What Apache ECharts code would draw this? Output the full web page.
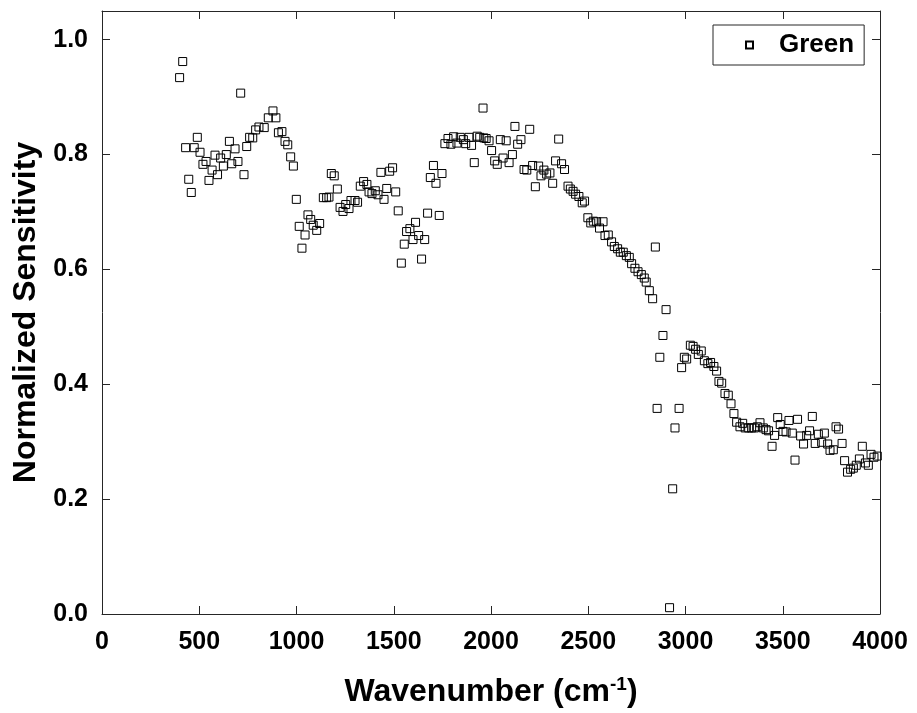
<!DOCTYPE html>
<html>
<head>
<meta charset="utf-8">
<script src="https://cdn.jsdelivr.net/npm/echarts@6/dist/echarts.min.js"></script>
<style>html,body{margin:0;padding:0;background:#fff}#c{width:917px;height:713px}</style>
</head>
<body>
<div id="c"></div>
<script>
const seriesName = 'Green';
const xTicks = [0, 500, 1000, 1500, 2000, 2500, 3000, 3500, 4000];
const yTicks = [0.0, 0.2, 0.4, 0.6, 0.8, 1.0];
const wavenumber = [
399,415,430,446,459,474,490,504,519,535,550,566,581,594,610,624,639,655,667,684,
699,713,730,744,759,775,790,807,834,855,879,894,907,925,941,955,970,984,999,1014,
1028,1044,1059,1073,1086,1104,1119,1138,1155,1167,1179,1194,1210,1224,1239,1253,1270,1280,1301,1314,
1328,1345,1362,1373,1388,1405,1419,1434,1450,1464,1479,1494,1510,1523,1539,1554,1566,1583,1599,1612,
1628,1643,1659,1674,1688,1704,1717,1734,1748,1763,1779,1794,1808,1825,1842,1858,1870,1887,1900,1914,
1929,1942,1959,1963,1975,1990,2003,2019,2032,2048,2062,2078,2093,2110,2123,2137,2154,2170,2184,2199,
2214,2228,2245,2257,2272,2286,2303,2317,2332,2348,2363,2378,2396,2408,2422,2435,2452,2469,2481,2498,
2513,2526,2543,2558,2576,2586,2603,2620,2634,2651,2665,2680,2696,2711,2723,2740,2756,2773,2788,2798,
2814,2831,2845,2854,2868,2884,2900,2918,2934,2946,2967,2980,2994,3006,3025,3039,3052,3066,3081,3097,
3115,3129,3146,3160,3172,3186,3203,3220,3234,3249,3263,3280,3294,3307,3325,3340,3354,3369,3383,3400,
3414,3427,3445,3458,3474,3487,3501,3517,3532,3549,3563,3576,3592,3607,3623,3638,3652,3667,3683,3700,
3714,3731,3743,3760,3774,3787,3805,3818,3833,3849,3863,3878,3894,3909,3925,3940,3954,3969,3986
];
const sensitivity = [
0.934,0.962,0.812,0.757,0.734,0.812,0.830,0.804,0.783,0.788,0.755,0.773,0.799,0.765,0.794,0.780,0.800,0.823,0.784,0.810,
0.788,0.907,0.765,0.814,0.830,0.829,0.843,0.848,0.847,0.864,0.876,0.864,0.838,0.840,0.823,0.817,0.796,0.780,0.722,0.675,
0.637,0.660,0.695,0.687,0.677,0.668,0.680,0.725,0.725,0.726,0.767,0.763,0.740,0.708,0.701,0.713,0.706,0.720,0.720,0.717,
0.745,0.753,0.748,0.735,0.732,0.737,0.730,0.769,0.722,0.741,0.771,0.777,0.735,0.702,0.611,0.644,0.666,0.671,0.652,0.682,
0.659,0.618,0.652,0.698,0.760,0.781,0.750,0.694,0.767,0.819,0.828,0.818,0.831,0.820,0.830,0.826,0.819,0.830,0.816,0.786,
0.832,0.830,0.881,0.829,0.828,0.824,0.807,0.789,0.783,0.826,0.794,0.824,0.786,0.800,0.849,0.818,0.826,0.774,0.773,0.844,
0.781,0.744,0.780,0.763,0.773,0.766,0.768,0.750,0.789,0.827,0.784,0.774,0.745,0.740,0.736,0.731,0.727,0.716,0.719,0.690,
0.681,0.684,0.683,0.672,0.683,0.659,0.660,0.648,0.640,0.636,0.630,0.630,0.624,0.621,0.610,0.602,0.596,0.591,0.585,0.578,
0.563,0.549,0.639,0.358,0.447,0.485,0.530,0.011,0.218,0.324,0.358,0.429,0.447,0.444,0.468,0.466,0.461,0.452,0.458,0.441,
0.436,0.438,0.431,0.423,0.405,0.402,0.384,0.381,0.366,0.349,0.334,0.326,0.332,0.324,0.324,0.324,0.324,0.326,0.333,0.324,
0.321,0.319,0.292,0.311,0.342,0.330,0.318,0.317,0.337,0.315,0.268,0.339,0.310,0.296,0.311,0.319,0.344,0.297,0.313,0.299,
0.315,0.296,0.285,0.286,0.326,0.322,0.297,0.267,0.247,0.252,0.254,0.259,0.270,0.292,0.263,0.259,0.278,0.273,0.275
];

const points = wavenumber.map((x, i) => [x, sensitivity[i]]);
const FONT = 'Liberation Sans';
const axisColor = '#262626';
const chart = echarts.init(document.getElementById('c'), null, {renderer: 'canvas'});
const common = {
  axisLine: {show: true, onZero: false, lineStyle: {color: axisColor, width: 1}},
  axisTick: {show: true, inside: true, length: 8, lineStyle: {color: axisColor}},
  splitLine: {show: false}
};
chart.setOption({
  animation: false,
  backgroundColor: '#ffffff',
  grid: {left: 102, right: 37, top: 11, bottom: 99, containLabel: false},
  legend: {
    data: [seriesName], left: 713, top: 25, orient: 'vertical',
    padding: [7, 10, 7, 32], itemWidth: 7, itemHeight: 7,
    borderColor: '#262626', borderWidth: 1, backgroundColor: '#fff',
    textStyle: {fontFamily: FONT, fontWeight: 'bold', fontSize: 26, color: '#000', padding: [0, 0, 0, 21]}
  },
  xAxis: [
    Object.assign({
      type: 'value', min: xTicks[0], max: xTicks[xTicks.length - 1], interval: 500,
      position: 'bottom',
      name: 'Wavenumber (cm{sup|-1})', nameLocation: 'middle', nameGap: 61,
      nameTextStyle: {fontFamily: FONT, fontWeight: 'bold', fontSize: 32, color: '#000',
        rich: {sup: {fontFamily: FONT, fontWeight: 'bold', fontSize: 19, color: '#000', padding: [0, 0, 15, 0]}}},
      axisLabel: {fontFamily: FONT, fontWeight: 'bold', fontSize: 25, color: '#000', margin: 16,
        formatter: v => String(Math.round(v))}
    }, common),
    Object.assign({
      type: 'value', min: 0, max: 4000, interval: 500, position: 'top',
      axisLabel: {show: false}
    }, common)
  ],
  yAxis: [
    Object.assign({
      type: 'value', min: 0, max: 1.05, interval: 0.2, position: 'left',
      name: 'Normalized Sensitivity', nameLocation: 'middle', nameGap: 58,
      nameTextStyle: {fontFamily: FONT, fontWeight: 'bold', fontSize: 32, color: '#000'},
      axisLabel: {fontFamily: FONT, fontWeight: 'bold', fontSize: 25, color: '#000', margin: 14,
        formatter: v => {
          const t = yTicks.find(k => Math.abs(k - v) < 1e-6);
          return t === undefined ? '' : t.toFixed(1);
        }}
    }, common),
    Object.assign({
      type: 'value', min: 0, max: 1.05, interval: 0.2, position: 'right',
      axisLabel: {show: false}
    }, common)
  ],
  series: [{
    name: seriesName, type: 'scatter', xAxisIndex: 0, yAxisIndex: 0,
    symbol: 'rect', symbolSize: 8,
    itemStyle: {color: 'rgba(255,255,255,0)', borderColor: '#000', borderWidth: 1, opacity: 1},
    data: points
  }]
});
</script>
</body>
</html>
